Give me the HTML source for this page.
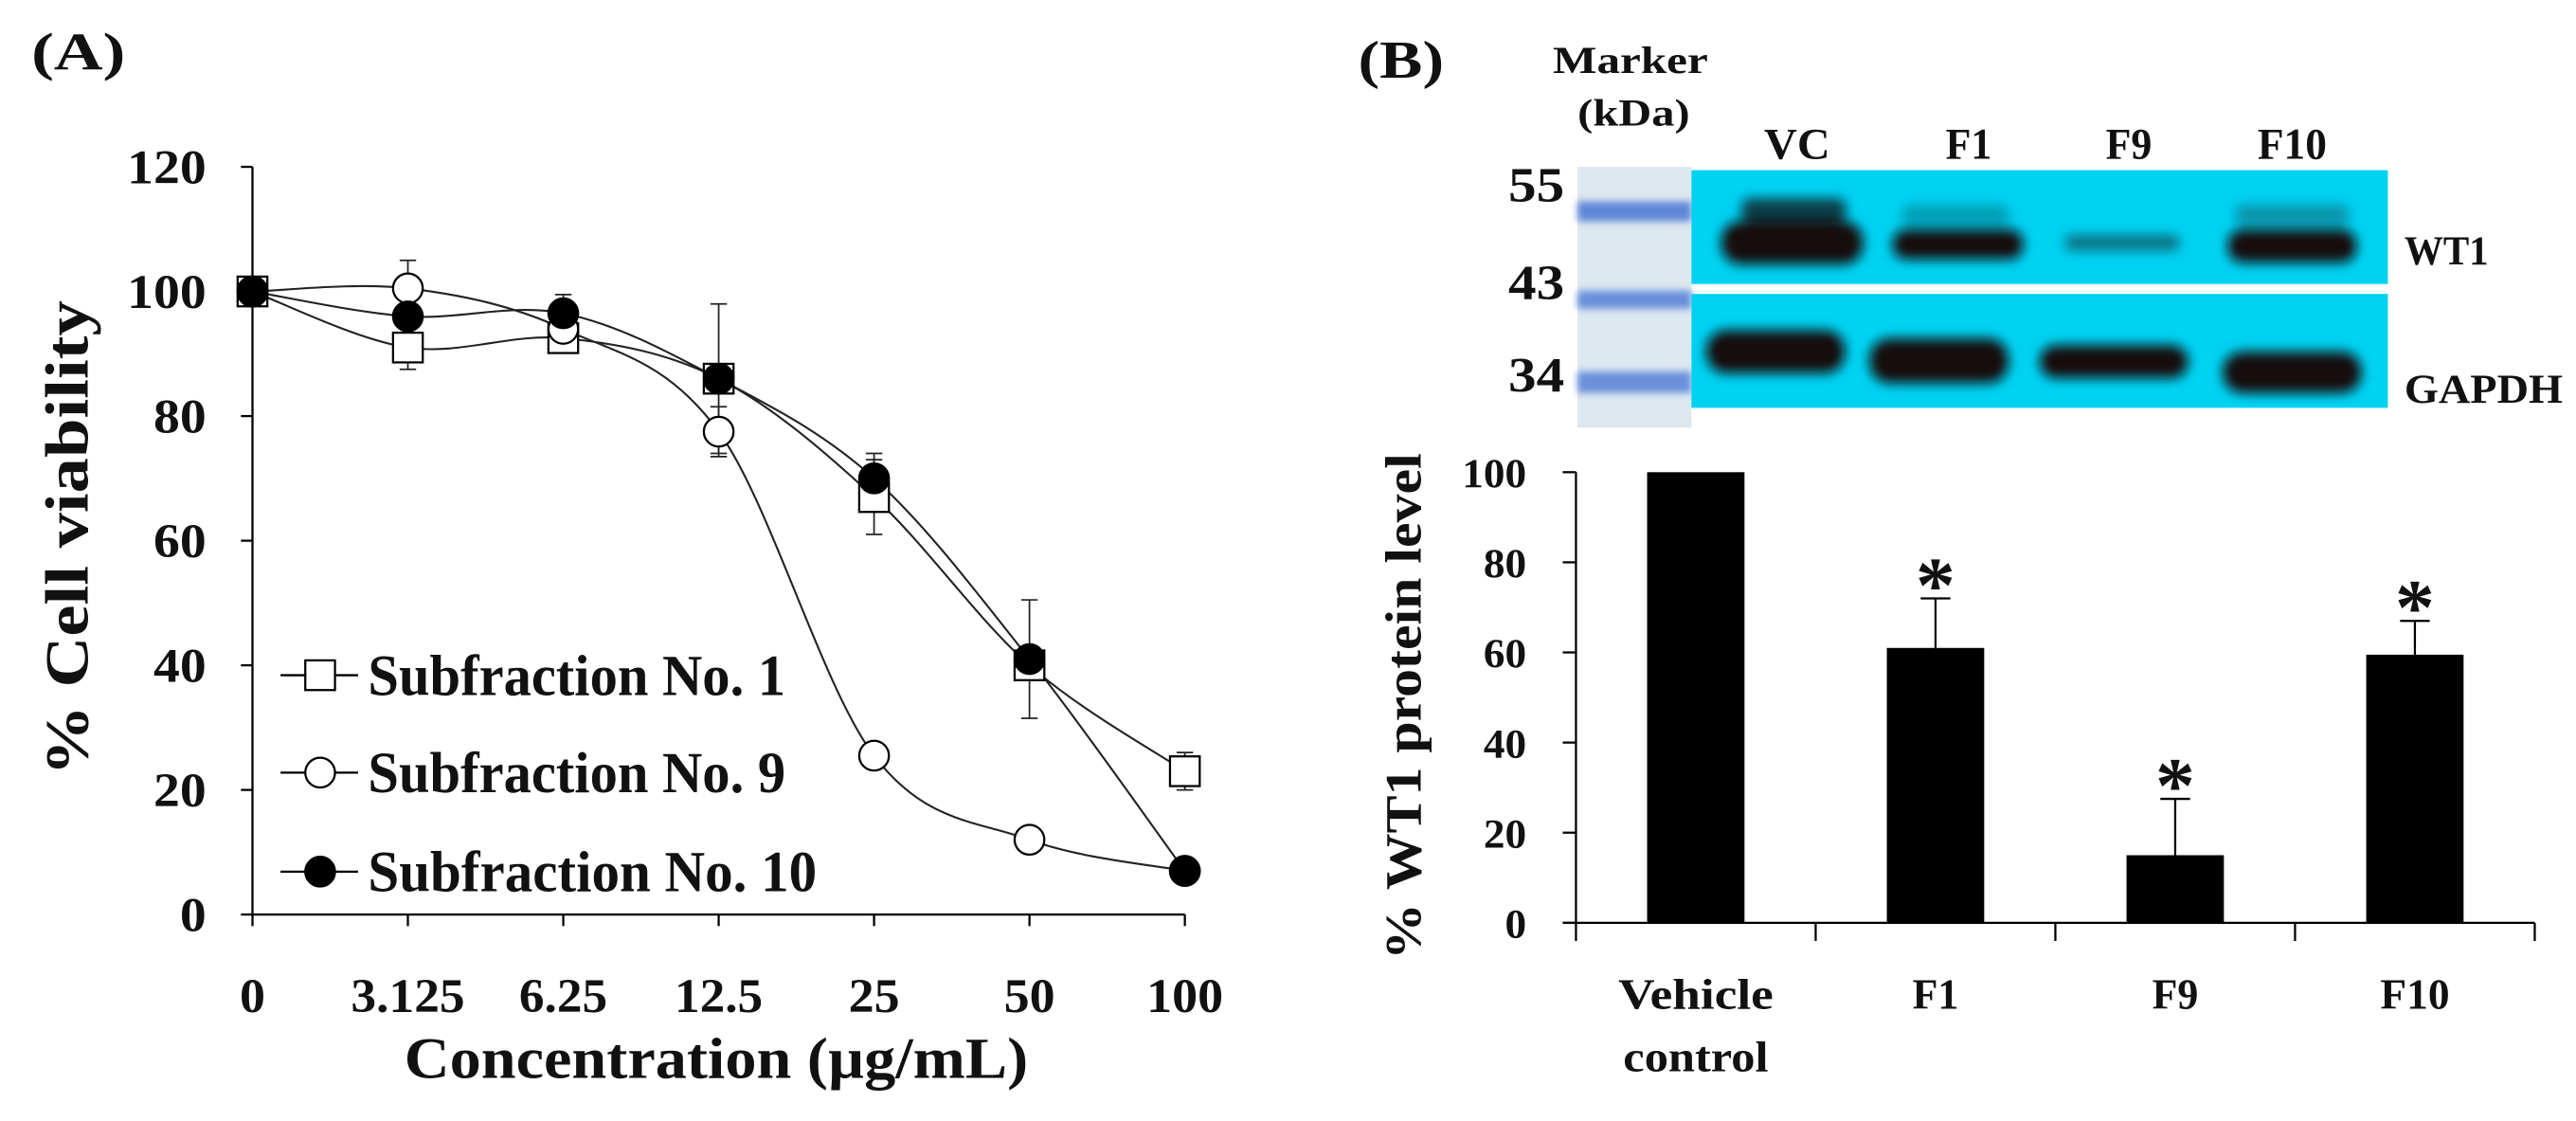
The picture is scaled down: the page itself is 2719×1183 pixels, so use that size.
<!DOCTYPE html>
<html><head><meta charset="utf-8"><style>
html,body{margin:0;padding:0;background:#fff;}
svg{display:block;}
text{font-family:"Liberation Serif",serif;font-weight:bold;fill:#111;}
</style></head><body>
<svg id="fig" width="2719" height="1183" viewBox="0 0 1561 679" xmlns="http://www.w3.org/2000/svg">
<defs>
<filter id="blur2" x="-20%" y="-50%" width="140%" height="200%"><feGaussianBlur stdDeviation="2.2"/></filter>
<filter id="blur4" x="-20%" y="-80%" width="140%" height="260%"><feGaussianBlur stdDeviation="3.5"/></filter>
</defs>
<text x="19" y="42" font-size="32" textLength="57" lengthAdjust="spacingAndGlyphs">(A)</text>
<g id="chartA"></g>
<text x="823" y="47" font-size="32" textLength="52" lengthAdjust="spacingAndGlyphs">(B)</text>
<g>
  <text x="988" y="44" font-size="23" text-anchor="middle" textLength="94" lengthAdjust="spacingAndGlyphs">Marker</text>
  <text x="990" y="76" font-size="23" text-anchor="middle" textLength="68" lengthAdjust="spacingAndGlyphs">(kDa)</text>
  <text x="1089" y="96" font-size="27" text-anchor="middle" textLength="40" lengthAdjust="spacingAndGlyphs">VC</text>
  <text x="1193" y="96" font-size="27" text-anchor="middle" textLength="28" lengthAdjust="spacingAndGlyphs">F1</text>
  <text x="1290" y="96" font-size="27" text-anchor="middle" textLength="28" lengthAdjust="spacingAndGlyphs">F9</text>
  <text x="1389" y="96" font-size="27" text-anchor="middle" textLength="42" lengthAdjust="spacingAndGlyphs">F10</text>
  <text x="948" y="122" font-size="30" text-anchor="end" textLength="34" lengthAdjust="spacingAndGlyphs">55</text>
  <text x="948" y="181" font-size="30" text-anchor="end" textLength="34" lengthAdjust="spacingAndGlyphs">43</text>
  <text x="948" y="237" font-size="30" text-anchor="end" textLength="34" lengthAdjust="spacingAndGlyphs">34</text>
  <rect x="956" y="101" width="69" height="158" fill="#dde8f0"/>
  <g filter="url(#blur2)">
    <rect x="956" y="122" width="69" height="12" fill="#5f86d8"/>
    <rect x="956" y="176" width="69" height="11" fill="#6990dc"/>
    <rect x="956" y="225" width="69" height="13" fill="#6a90dc"/>
  </g>
  <rect x="1025" y="103" width="422" height="69" fill="#00d2f2"/>
  <rect x="1025" y="178" width="422" height="69" fill="#00d2f2"/>
  <g filter="url(#blur4)" fill="#140808">
    <rect x="1043" y="134" width="86" height="26" rx="12"/>
    <rect x="1055" y="120" width="64" height="14" rx="6" opacity="0.7"/>
    <rect x="1147" y="139" width="79" height="18" rx="8"/>
    <rect x="1152" y="124" width="66" height="12" rx="6" opacity="0.25"/>
    <rect x="1251" y="142" width="70" height="10" rx="5" opacity="0.45"/>
    <rect x="1350" y="139" width="78" height="20" rx="9"/>
    <rect x="1354" y="124" width="70" height="12" rx="6" opacity="0.3"/>
    <rect x="1034" y="200" width="84" height="26" rx="12"/>
    <rect x="1133" y="205" width="84" height="27" rx="12"/>
    <rect x="1236" y="209" width="90" height="20" rx="10"/>
    <rect x="1347" y="213" width="84" height="25" rx="12"/>
  </g>
  <text x="1457" y="160" font-size="25" textLength="51" lengthAdjust="spacingAndGlyphs">WT1</text>
  <text x="1457" y="244" font-size="25" textLength="96" lengthAdjust="spacingAndGlyphs">GAPDH</text>
</g>
<g id="chartB"></g>
</svg>
<script>
// ---------- Panel A data ----------
const concLabels = ["0","3.125","6.25","12.5","25","50","100"];
const yTicksA = [0,20,40,60,80,100,120];
const sub1 = [100,91,92.5,86,67,40,23];
const sub1Err = [0,3.5,2,0,6,0,3];
const sub9 = [100,100.5,94,77.5,25.5,12,7];
const sub9Err = [0,4.5,0,4,0,0,0];
const sub10 = [100,96,96.5,86,70,41,7];
const sub10Err = [0,0,3,12,4,9.5,0];
const seriesNames = ["Subfraction No. 1","Subfraction No. 9","Subfraction No. 10"];
// ---------- Panel B data ----------
const barCats = ["Vehicle|control","F1","F9","F10"];
const barVals = [100,61,15,59.5];
const barErr = [0,11,12.5,7.5];
const barSig = [false,true,true,true];
const yTicksB = [0,20,40,60,80,100];

const NS="http://www.w3.org/2000/svg";
function mk(tag,attrs,parent){const e=document.createElementNS(NS,tag);for(const k in attrs)e.setAttribute(k,attrs[k]);parent.appendChild(e);return e;}

// Panel A
const gA=document.getElementById('chartA');
const ax0=153, axR=718, ay0=554, ayTop=101;
const xA=i=>ax0+i*(axR-ax0)/(concLabels.length-1);
const yA=v=>ay0-(v/120)*(ay0-ayTop);
let l=mk('line',{x1:ax0,y1:ayTop,x2:ax0,y2:ay0+1,stroke:'#000','stroke-width':1.3},gA);


l=mk('line',{x1:ax0,y1:ay0,x2:axR,y2:ay0,stroke:'#000','stroke-width':1.3},gA);


yTicksA.forEach(v=>{
  mk('line',{x1:ax0-7,y1:yA(v),x2:ax0,y2:yA(v),stroke:'#000','stroke-width':1.3},gA);
  const s=String(v);
  const t=mk('text',{x:125,y:yA(v)+10,'font-size':29,'text-anchor':'end',textLength:s.length*16,lengthAdjust:'spacingAndGlyphs'},gA);t.textContent=s;
  
  
});
concLabels.forEach((c,i)=>{
  mk('line',{x1:xA(i),y1:ay0,x2:xA(i),y2:ay0+7,stroke:'#000','stroke-width':1.3},gA);
  const w=c.replace('.','').length*15.5+(c.includes('.')?7:0);
  const t=mk('text',{x:xA(i),y:613,'font-size':29,'text-anchor':'middle',textLength:w,lengthAdjust:'spacingAndGlyphs'},gA);t.textContent=c;
  
  
});
let t=mk('text',{x:434,y:653,'font-size':35,'text-anchor':'middle',textLength:378,lengthAdjust:'spacingAndGlyphs'},gA);t.textContent="Concentration (µg/mL)";


t=mk('text',{x:0,y:0,'font-size':37,'text-anchor':'middle',textLength:288,lengthAdjust:'spacingAndGlyphs',transform:'translate(53,326) rotate(-90)'},gA);t.textContent="% Cell viability";



function smooth(vals){
  const p=vals.map((v,i)=>[xA(i),yA(v)]);let d=`M${p[0][0]},${p[0][1]}`;
  for(let i=0;i<p.length-1;i++){
    const p0=p[Math.max(i-1,0)],p1=p[i],p2=p[i+1],p3=p[Math.min(i+2,p.length-1)];
    const c1=[p1[0]+(p2[0]-p0[0])/6,p1[1]+(p2[1]-p0[1])/6],c2=[p2[0]-(p3[0]-p1[0])/6,p2[1]-(p3[1]-p1[1])/6];
    d+=` C${c1[0]},${c1[1]} ${c2[0]},${c2[1]} ${p2[0]},${p2[1]}`;
  }return d;
}
const allSeries=[[sub1,sub1Err,'square','series-sub1'],[sub9,sub9Err,'open','series-sub9'],[sub10,sub10Err,'filled','series-sub10']];
allSeries.forEach(([vals,errs,kind,name])=>{
  const g=mk('g',{},gA);
  
  
  mk('path',{d:smooth(vals),fill:'none',stroke:'#222','stroke-width':1.2},g);
  vals.forEach((v,i)=>{if(errs[i]>0){
    const x=xA(i);mk('line',{x1:x,y1:yA(v-errs[i]),x2:x,y2:yA(v+errs[i]),stroke:'#222','stroke-width':1},g);
    mk('line',{x1:x-5,y1:yA(v+errs[i]),x2:x+5,y2:yA(v+errs[i]),stroke:'#222','stroke-width':1},g);
    mk('line',{x1:x-5,y1:yA(v-errs[i]),x2:x+5,y2:yA(v-errs[i]),stroke:'#222','stroke-width':1},g);
  }});
});
function marker(kind,x,y,parent){
  if(kind==='square')return mk('rect',{x:x-9,y:y-9,width:18,height:18,fill:'#fff',stroke:'#000','stroke-width':1.3},parent);
  return mk('circle',{cx:x,cy:y,r:9,fill:kind==='filled'?'#000':'#fff',stroke:'#000','stroke-width':1.3},parent);
}
allSeries.forEach(([vals,errs,kind])=>{vals.forEach((v,i)=>{
  const m=marker(kind,xA(i),yA(v),gA);
  
  
});});
// legend
const legY=[409,468,528];const legK=['square','open','filled'];const legW=[253,253,272];
seriesNames.forEach((n,i)=>{
  const g=mk('g',{},gA);
  
  
  mk('line',{x1:170,y1:legY[i],x2:217,y2:legY[i],stroke:'#000','stroke-width':1.3},g);
  marker(legK[i],194,legY[i],g);
  const tt=mk('text',{x:223,y:legY[i]+12,'font-size':35,textLength:legW[i],lengthAdjust:'spacingAndGlyphs'},g);tt.textContent=n;
});

// Panel B
const gB=document.getElementById('chartB');
const bx0=955, bxR=1536, by0=559, byTop=286;
const catW=(bxR-bx0)/barCats.length;
const yB=v=>by0-(v/100)*(by0-byTop);
l=mk('line',{x1:bx0,y1:byTop,x2:bx0,y2:by0,stroke:'#000','stroke-width':1.3},gB);


l=mk('line',{x1:bx0-8,y1:by0,x2:bxR,y2:by0,stroke:'#000','stroke-width':1.3},gB);


yTicksB.forEach(v=>{
  mk('line',{x1:bx0-8,y1:yB(v),x2:bx0,y2:yB(v),stroke:'#000','stroke-width':1.3},gB);
  const s=String(v);
  const tt=mk('text',{x:925,y:yB(v)+9,'font-size':25,'text-anchor':'end',textLength:s.length*13,lengthAdjust:'spacingAndGlyphs'},gB);tt.textContent=s;
  
  
});
for(let i=0;i<=barCats.length;i++)mk('line',{x1:bx0+i*catW,y1:by0,x2:bx0+i*catW,y2:by0+11,stroke:'#000','stroke-width':1.3},gB);
const labW={"Vehicle":94,"control":88,"F1":28,"F9":28,"F10":42};
barCats.forEach((c,i)=>{
  const cx=bx0+(i+0.5)*catW, bw=59;
  const r=mk('rect',{x:cx-bw/2,y:yB(barVals[i]),width:bw,height:by0-yB(barVals[i]),fill:'#000'},gB);
  
  
  if(barErr[i]>0){
    const top=yB(barVals[i]+barErr[i]);
    mk('line',{x1:cx,y1:yB(barVals[i]),x2:cx,y2:top,stroke:'#000','stroke-width':1.3},gB);
    mk('line',{x1:cx-9,y1:top,x2:cx+9,y2:top,stroke:'#000','stroke-width':1.3},gB);
  }
  if(barSig[i]){
    const s=mk('text',{x:cx,y:yB(barVals[i]+barErr[i])+8,'font-size':48,'text-anchor':'middle'},gB);s.textContent='*';
    
    
  }
  c.split('|').forEach((line,j)=>{
    const tt=mk('text',{x:cx,y:611+j*38,'font-size':26,'text-anchor':'middle',textLength:labW[line],lengthAdjust:'spacingAndGlyphs'},gB);tt.textContent=line;
    
    
  });
});
t=mk('text',{x:0,y:0,'font-size':31,'text-anchor':'middle',textLength:307,lengthAdjust:'spacingAndGlyphs',transform:'translate(861,428) rotate(-90)'},gB);t.textContent="% WT1 protein level";


</script>
</body></html>
